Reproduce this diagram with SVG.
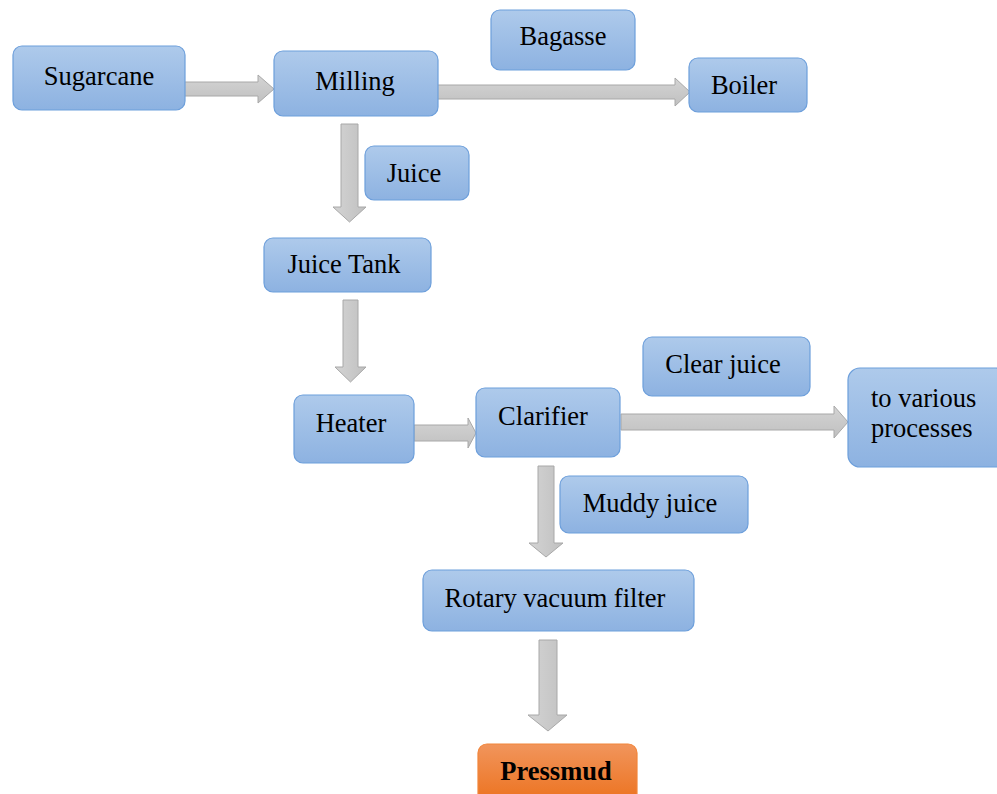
<svg xmlns="http://www.w3.org/2000/svg" width="997" height="794" viewBox="0 0 997 794">
<defs>
<linearGradient id="gb" x1="0" y1="0" x2="0" y2="1"><stop offset="0" stop-color="#aecaeb"/><stop offset="1" stop-color="#8db2e1"/></linearGradient>
<linearGradient id="go" x1="0" y1="0" x2="0" y2="1"><stop offset="0" stop-color="#f1955c"/><stop offset="1" stop-color="#ec711d"/></linearGradient>
<linearGradient id="gg" x1="0" y1="0" x2="0" y2="1"><stop offset="0" stop-color="#d4d4d4"/><stop offset="1" stop-color="#c0c0c0"/></linearGradient>
<linearGradient id="ggh" x1="0" y1="0" x2="1" y2="0"><stop offset="0" stop-color="#d4d4d4"/><stop offset="1" stop-color="#c0c0c0"/></linearGradient>
</defs>
<style>
.b{fill:url(#gb);stroke:#6d9fdb;stroke-width:1.2}
.o{fill:url(#go);stroke:#f2853a;stroke-width:1.2}
.t{font-family:"Liberation Serif","Times New Roman",serif;font-size:26.5px;fill:#000;text-anchor:middle}
.bold{font-weight:bold}
.a{fill:url(#gg);stroke:#a8a8a8;stroke-width:1}
.av{fill:url(#ggh);stroke:#a8a8a8;stroke-width:1}
</style>
<rect width="997" height="794" fill="#fff"/>
<g id="connectors">
<path class="a" d="M182,82 H258 V75 L274,89 L258,103 V96 H182 Z"/>
<path class="a" d="M437,85 H675 V78 L690,92 L675,106 V99 H437 Z"/>
<path class="av" d="M341,124 V207 H333 L349.5,222 L366,207 H358 V124 Z"/>
<path class="av" d="M343,300 V367 H335 L350.5,382 L366,367 H358 V300 Z"/>
<path class="a" d="M414,425 H468 V418 L476,433 L468,448 V441 H414 Z"/>
<path class="a" d="M621,414 H834 V406 L848,422 L834,438 V430 H621 Z"/>
<path class="av" d="M538,466 V543 H529 L546,557 L563,543 H554 V466 Z"/>
<path class="av" d="M539,640 V715 H528 L548,731 L567,715 H557 V640 Z"/>
</g>
<g id="sugarcane"><rect class="b" x="13" y="46" width="172" height="64" rx="9"/><text class="t" x="99" y="85">Sugarcane</text></g>
<g id="milling"><rect class="b" x="274" y="51" width="164" height="65" rx="9"/><text class="t" x="355" y="90">Milling</text></g>
<g id="bagasse"><rect class="b" x="491" y="10" width="144" height="60" rx="9"/><text class="t" x="563" y="45">Bagasse</text></g>
<g id="boiler"><rect class="b" x="689" y="58" width="118" height="54" rx="9"/><text class="t" x="744" y="94">Boiler</text></g>
<g id="juice"><rect class="b" x="365" y="146" width="104" height="54" rx="9"/><text class="t" x="414" y="182">Juice</text></g>
<g id="juice-tank"><rect class="b" x="264" y="238" width="167" height="54" rx="9"/><text class="t" x="344" y="273">Juice Tank</text></g>
<g id="heater"><rect class="b" x="294" y="395" width="120" height="68" rx="9"/><text class="t" x="351" y="432">Heater</text></g>
<g id="clarifier"><rect class="b" x="476" y="388" width="144" height="69" rx="9"/><text class="t" x="543" y="425">Clarifier</text></g>
<g id="clear-juice"><rect class="b" x="643" y="337" width="167" height="59" rx="9"/><text class="t" x="723" y="373">Clear juice</text></g>
<g id="various"><rect class="b" x="848" y="368" width="160" height="99" rx="12"/><text class="t" x="871" y="407" style="text-anchor:start">to various</text><text class="t" x="871" y="437" style="text-anchor:start">processes</text></g>
<g id="muddy-juice"><rect class="b" x="560" y="476" width="188" height="57" rx="9"/><text class="t" x="650" y="512">Muddy juice</text></g>
<g id="rotary"><rect class="b" x="423" y="570" width="271" height="61" rx="9"/><text class="t" x="555" y="607">Rotary vacuum filter</text></g>
<g id="pressmud"><rect class="o" x="478" y="744" width="159" height="60" rx="9"/><text class="t bold" x="556" y="780">Pressmud</text></g>
</svg>
